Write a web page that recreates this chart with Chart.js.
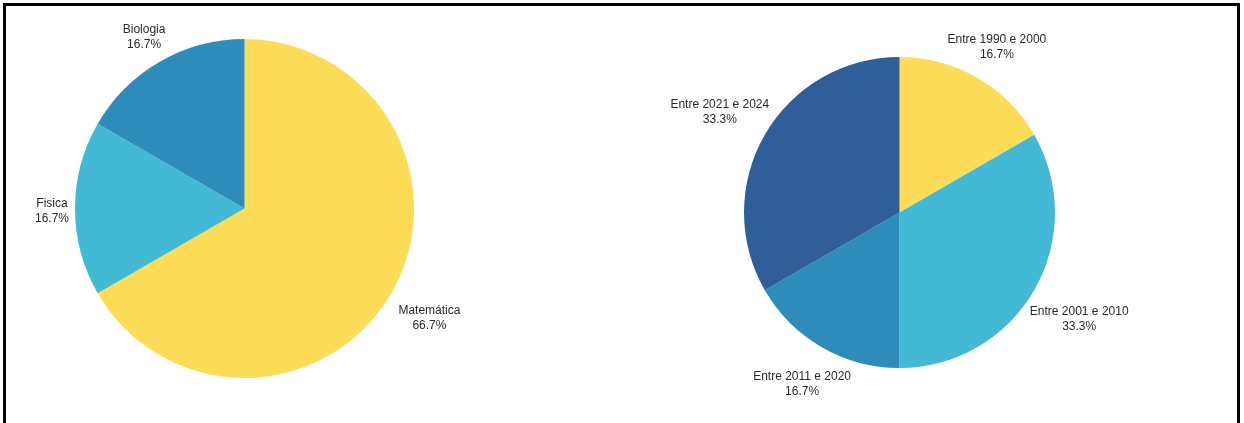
<!DOCTYPE html>
<html>
<head>
<meta charset="utf-8">
<script src="https://cdn.jsdelivr.net/npm/chart.js@4.4.1/dist/chart.umd.min.js"></script>
<style>
    html, body { margin: 0; padding: 0; background: #fff; width: 1244px; height: 423px; overflow: hidden; position: relative; }
    .frame { position: absolute; left: 3px; top: 3px; width: 1231px; height: 440px; border: 3px solid #000; border-bottom: none; }
    .box { position: absolute; top: 0; height: 423px; }
</style>
</head>
<body>
<div class="frame"></div>
<div class="box" style="left:0; width:490px;"><canvas id="areaChart"></canvas></div>
<div class="box" style="left:620px; width:624px;"><canvas id="periodChart"></canvas></div>
<script>
// chart data
const areaLabels = ['Matemática', 'Fisica', 'Biologia'];
const areaValues = [4, 1, 1];
const areaColors = ['#FDDC57', '#43B9D6', '#2E8CBA'];

const periodLabels = ['Entre 1990 e 2000', 'Entre 2001 e 2010', 'Entre 2011 e 2020', 'Entre 2021 e 2024'];
const periodValues = [1, 2, 1, 2];
const periodColors = ['#FDDC57', '#43B9D6', '#2E8CBA', '#2F5E98'];

const LINE = 15;

// labels outside each slice: name + percentage
const outsideLabels = {
    id: 'outsideLabels',
    afterDatasetsDraw(chart, args, opts) {
        const ctx = chart.ctx;
        const data = chart.data.datasets[0].data;
        const total = data.reduce((a, b) => a + b, 0);
        ctx.save();
        ctx.font = '12px "Liberation Sans", Arial, sans-serif';
        ctx.fillStyle = '#2a2a2a';
        ctx.textAlign = 'center';
        ctx.textBaseline = 'middle';
        chart.getDatasetMeta(0).data.forEach((arc, i) => {
            const mid = (arc.startAngle + arc.endAngle) / 2;
            const dx = Math.cos(mid), dy = Math.sin(mid);
            const lines = [chart.data.labels[i], (data[i] / total * 100).toFixed(1) + '%'];
            const w = Math.max(...lines.map(l => ctx.measureText(l).width));
            const h = lines.length * LINE;
            const ex = Math.abs(dx) > 1e-6 ? w / 2 / Math.abs(dx) : Infinity;
            const ey = Math.abs(dy) > 1e-6 ? h / 2 / Math.abs(dy) : Infinity;
            const d = arc.outerRadius + opts.gap + Math.min(ex, ey);
            let cx = arc.x + dx * d;
            const cy = arc.y + dy * d + 3;
            cx = Math.max(cx, opts.minX + w / 2);
            lines.forEach((l, k) => ctx.fillText(l, cx, cy + (k - (lines.length - 1) / 2) * LINE));
        });
        ctx.restore();
    }
};

function makePie(id, labels, values, colors, padding, gap, minX) {
    new Chart(document.getElementById(id), {
        type: 'pie',
        data: {
            labels: labels,
            datasets: [{
                data: values,
                backgroundColor: colors,
                borderWidth: 0
            }]
        },
        options: {
            responsive: true,
            maintainAspectRatio: false,
            animation: false,
            layout: { padding: padding },
            plugins: {
                legend: { display: false },
                tooltip: { enabled: false },
                outsideLabels: { gap: gap, minX: minX }
            }
        },
        plugins: [outsideLabels]
    });
}

makePie('areaChart', areaLabels, areaValues, areaColors,
    { top: 39, bottom: 45, left: 75, right: 76 }, 14, 35);
makePie('periodChart', periodLabels, periodValues, periodColors,
    { top: 57, bottom: 55, left: 124, right: 189 }, 22, 0);
</script>
</body>
</html>
